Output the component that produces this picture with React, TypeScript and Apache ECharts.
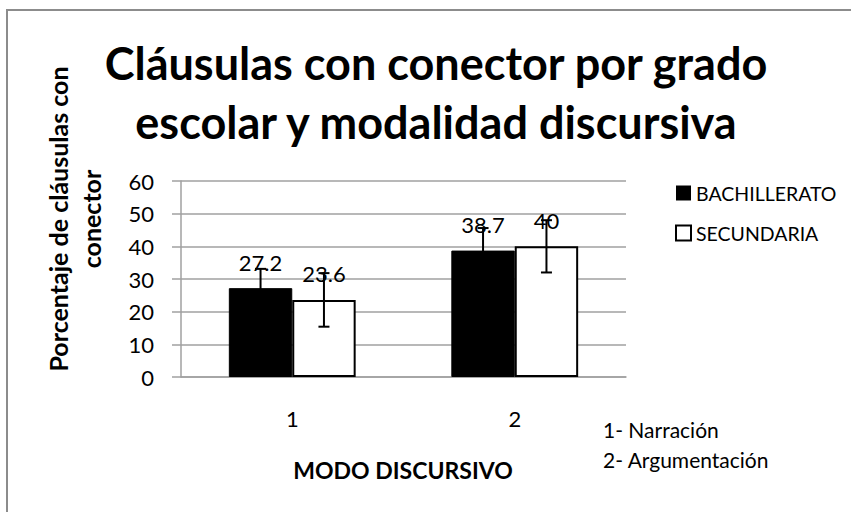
import React, { useEffect, useRef } from "react";
import * as echarts from "echarts";

const categories = ["1", "2"];
const bachillerato = [27.2, 38.7];
const secundaria = [23.6, 40];
const bachilleratoErr = [5.9, 6.9];
const secundariaErr = [8.2, 8];
const yTicks = [0, 10, 20, 30, 40, 50, 60];

const FONT = "Lato, 'Open Sans', sans-serif";

export default function App() {
  const ref = useRef<HTMLDivElement>(null);
  useEffect(() => {
    const chart = echarts.init(ref.current!, null, { renderer: "svg" });
    const errData = (vals: number[], errs: number[], side: number) =>
      vals.map((v, i) => [i, v - errs[i], v + errs[i], side]);
    const renderErr = (params: any, api: any) => {
      const idx = api.value(0);
      const lo = api.value(1);
      const hi = api.value(2);
      const side = api.value(3);
      const band = api.size([1, 0])[0];
      const off = (band * 0.57) / 4 * side;
      const pLo = api.coord([idx, lo]);
      const pHi = api.coord([idx, hi]);
      const x = pLo[0] + off;
      const cap = 5.5;
      const st = { stroke: "#000", lineWidth: 2 };
      return {
        type: "group",
        children: [
          { type: "line", shape: { x1: x, y1: pLo[1], x2: x, y2: pHi[1] }, style: st },
          { type: "line", shape: { x1: x - cap, y1: pHi[1], x2: x + cap, y2: pHi[1] }, style: st },
          { type: "line", shape: { x1: x - cap, y1: pLo[1], x2: x + cap, y2: pLo[1] }, style: st },
        ],
      };
    };
    const labelStyle = {
      show: true,
      position: "top" as const,
      distance: 15,
      fontSize: 22,
      fontFamily: FONT,
      color: "#000",
    };
    chart.setOption({
      animation: false,
      backgroundColor: "#fff",
      grid: { left: 181, top: 181, right: 225, bottom: 135 },
      legend: {
        orient: "vertical",
        left: 675,
        top: 183,
        padding: 0,
        itemWidth: 15,
        itemHeight: 15,
        itemGap: 20,
        icon: "rect",
        textStyle: { fontSize: 19.5, fontFamily: FONT, color: "#000" },
        data: [
          { name: "BACHILLERATO", itemStyle: { color: "#000", borderColor: "#000", borderWidth: 0 } },
          { name: "SECUNDARIA", itemStyle: { color: "#fff", borderColor: "#000", borderWidth: 2 } },
        ],
      },
      xAxis: {
        type: "category",
        data: categories,
        axisLine: { lineStyle: { color: "#a0a0a0", width: 1.5 } },
        axisTick: { show: false },
        axisLabel: { fontSize: 22, fontFamily: FONT, color: "#000", margin: 30 },
      },
      yAxis: {
        type: "value",
        min: 0,
        max: 60,
        interval: 10,
        axisLine: { show: true, lineStyle: { color: "#a0a0a0", width: 1.5 } },
        axisTick: { show: true, length: 9, lineStyle: { color: "#a0a0a0", width: 1.5 } },
        splitLine: { lineStyle: { color: "#a0a0a0", width: 1.5 } },
        axisLabel: {
          fontSize: 22,
          fontFamily: FONT,
          color: "#000",
          margin: 27,
          formatter: (v: number) => (yTicks.includes(v) ? String(v) : ""),
        },
      },
      series: [
        {
          name: "BACHILLERATO",
          type: "bar",
          data: bachillerato,
          barGap: "0%",
          barCategoryGap: "43%",
          itemStyle: { color: "#000", borderColor: "#000", borderWidth: 1 },
          label: labelStyle,
        },
        {
          name: "SECUNDARIA",
          type: "bar",
          data: secundaria,
          itemStyle: { color: "#fff", borderColor: "#000", borderWidth: 2 },
          label: labelStyle,
        },
        {
          type: "custom",
          data: errData(bachillerato, bachilleratoErr, -1),
          renderItem: renderErr,
          encode: { x: 0, y: [1, 2] },
          z: 10,
          silent: true,
        },
        {
          type: "custom",
          data: errData(secundaria, secundariaErr, 1),
          renderItem: renderErr,
          encode: { x: 0, y: [1, 2] },
          z: 10,
          silent: true,
        },
      ],
      graphic: [
        {
          type: "rect",
          shape: { x: 7, y: 10, width: 900, height: 600 },
          style: { fill: "none", stroke: "#8c8c8c", lineWidth: 2 },
          silent: true,
          z: 0,
        },
        {
          type: "text",
          x: 436,
          y: 63,
          style: {
            text: "Cláusulas con conector por grado",
            font: `bold 45px ${FONT}`,
            fill: "#000",
            align: "center",
            verticalAlign: "middle",
          },
        },
        {
          type: "text",
          x: 436,
          y: 122,
          style: {
            text: "escolar y modalidad discursiva",
            font: `bold 45px ${FONT}`,
            fill: "#000",
            align: "center",
            verticalAlign: "middle",
          },
        },
        {
          type: "text",
          x: 74,
          y: 219,
          rotation: Math.PI / 2,
          style: {
            text: "Porcentaje de cláusulas con\nconector",
            font: `bold 25px ${FONT}`,
            lineHeight: 33,
            fill: "#000",
            align: "center",
            verticalAlign: "middle",
          },
        },
        {
          type: "text",
          x: 403,
          y: 470,
          style: {
            text: "MODO DISCURSIVO",
            font: `bold 23px ${FONT}`,
            fill: "#000",
            align: "center",
            verticalAlign: "middle",
          },
        },
        {
          type: "text",
          x: 603,
          y: 429,
          style: {
            text: "1- Narración",
            font: `21px ${FONT}`,
            fill: "#000",
            verticalAlign: "middle",
          },
        },
        {
          type: "text",
          x: 603,
          y: 459,
          style: {
            text: "2- Argumentación",
            font: `21px ${FONT}`,
            fill: "#000",
            verticalAlign: "middle",
          },
        },
      ],
    });
    return () => chart.dispose();
  }, []);
  return <div ref={ref} style={{ width: 851, height: 512, position: "fixed", left: 0, top: 0 }} />;
}
